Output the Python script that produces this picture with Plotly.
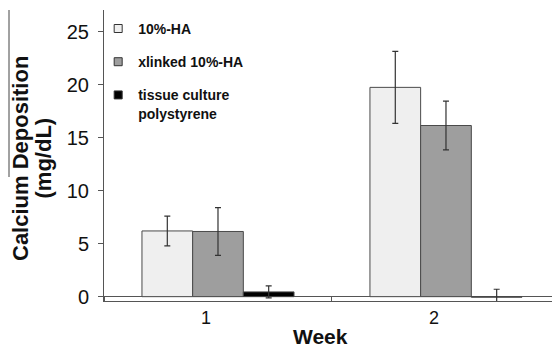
import plotly.graph_objects as go

weeks = ["1", "2"]
series_names = ["10%-HA", "xlinked 10%-HA", "tissue culture<br>polystyrene"]
ha_vals = [6.2, 19.75]
ha_err = [1.4, 3.4]
xl_vals = [6.15, 16.15]
xl_err = [2.25, 2.3]
tcps_vals = [0.45, -0.05]
tcps_err = [0.57, 0.75]
y_ticks = [0, 5, 10, 15, 20, 25]
y_title_lines = ["Calcium Deposition", "(mg/dL)"]
x_title = "Week"

fills = ["#efefef", "#9e9e9e", "#000000"]
edge = "#4a4a4a"
FONT = "Arial, Liberation Sans, sans-serif"


def px_x(p):
    return (p - 104) / 448


def px_y(p):
    return (301 - p) / 291


xpos = list(range(len(weeks)))
fig = go.Figure()
for name, vals, errs, col in zip(series_names,
                                 [ha_vals, xl_vals, tcps_vals],
                                 [ha_err, xl_err, tcps_err], fills):
    fig.add_trace(go.Bar(
        x=xpos, y=vals, name=name, showlegend=False,
        marker=dict(color=col, line=dict(color=edge, width=1)),
        error_y=dict(type="data", array=errs, visible=True,
                     color="#333333", thickness=1.2, width=3),
    ))
# legend entries
for i, (name, col) in enumerate(zip(series_names, fills)):
    fig.add_trace(go.Scatter(
        x=[None], y=[None], mode="markers", name=name,
        legendgroup=f"g{i}",
        marker=dict(symbol="square", size=8, color=col,
                    line=dict(color="#333333", width=1)),
    ))

annotations = [dict(text=f"<b>{x_title}</b>", xref="paper", yref="paper",
                    x=px_x(320.5), y=px_y(336),
                    xanchor="center", yanchor="middle", showarrow=False,
                    font=dict(size=21, family=FONT, color="#111111"))]
for line, cx in zip(y_title_lines, [20.5, 43]):
    annotations.append(dict(text=f"<b>{line}</b>", xref="paper", yref="paper",
                            x=px_x(cx), y=px_y(158.5), textangle=-90,
                            xanchor="center", yanchor="middle",
                            showarrow=False,
                            font=dict(size=22, family=FONT, color="#111111")))

fig.update_layout(
    width=552, height=350,
    margin=dict(l=104, r=0, t=10, b=49, autoexpand=False),
    paper_bgcolor="white", plot_bgcolor="white",
    barmode="group", bargap=0.333, bargroupgap=0,
    font=dict(family=FONT, color="#111111"),
    showlegend=True,
    legend=dict(x=-0.013, y=0.99, xanchor="left", yanchor="top",
                bgcolor="rgba(0,0,0,0)", tracegroupgap=12, valign="top",
                font=dict(size=14, family=FONT, color="#111111", weight="bold")),
    xaxis=dict(range=[-0.5, 1.465], showgrid=False, zeroline=False,
               automargin=False,
               showline=True, linecolor="#555555", linewidth=1,
               tickvals=[x - 0.053 for x in xpos], ticktext=weeks,
               ticks="", tickfont=dict(size=18, color="#111111"),
               minor=dict(tickvals=[-0.5, 0.5, 1.5], ticks="inside",
                          ticklen=5, tickcolor="#555555")),
    yaxis=dict(range=[-0.41, 27.05], showgrid=False, zeroline=True,
               automargin=False,
               zerolinecolor="#555555", zerolinewidth=1,
               showline=True, linecolor="#555555", linewidth=1,
               tickvals=y_ticks, ticks="outside", ticklen=5,
               tickcolor="#555555", ticklabelstandoff=5,
               tickfont=dict(size=20, color="#111111")),
    annotations=annotations,
    shapes=[dict(type="line", xref="paper", yref="paper",
                 x0=px_x(9), x1=px_x(9), y0=1.0, y1=px_y(177),
                 line=dict(color="#444444", width=1))],
)

fig.write_html("out.html",
               config={"displayModeBar": False},
               post_script="document.body.style.margin='0';"
                           "document.body.style.overflow='hidden';")
